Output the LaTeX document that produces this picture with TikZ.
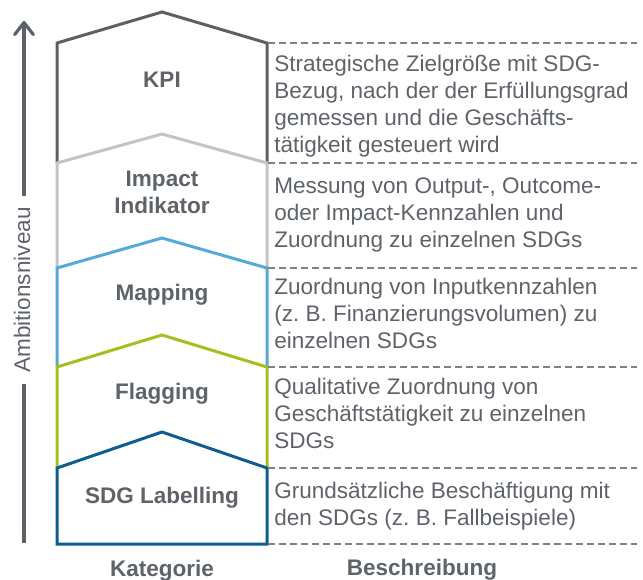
\documentclass[tikz,border=0pt]{standalone}
\usepackage{fontspec}
\setmainfont{Liberation Sans}
\usepackage{tikz}
\usetikzlibrary{arrows.meta}
\definecolor{txtgray}{HTML}{5E6369}
\definecolor{sepgray}{HTML}{7D8287}
\definecolor{kpicol}{HTML}{5B6167}
\definecolor{impactcol}{HTML}{C2C5C8}
\definecolor{mappingcol}{HTML}{56A8D6}
\definecolor{flaggingcol}{HTML}{AABD20}
\definecolor{labelcol}{HTML}{0D5D8E}
\newcommand{\diafont}{\fontsize{16.9pt}{20.25pt}\selectfont}
\frenchspacing

\begin{document}
\begin{tikzpicture}[x=0.75pt,y=-0.75pt]
                    \tikzstyle{every node}+=[inner sep=0pt, text=txtgray, font=\diafont]
                    \tikzstyle{layer}=[line width=2.25pt, line join=miter]
                    \tikzstyle{sep}=[sepgray, line width=0.9pt, dash pattern=on 5.25pt off 3pt]
                    \tikzstyle{cat}=[font=\diafont\bfseries, anchor=base]
                    \tikzstyle{desc}=[anchor=north west, align=left]
                    \useasboundingbox (0,0) rectangle (643,579);
                    % Ambitionsniveau
                    \coordinate (arrowtop) at (24,21);
                    \coordinate (arrowbot) at (24,543);
                    \node [rotate=90, inner xsep=8pt] (ambition) at (22,290) {Ambitionsniveau};
                    \draw [kpicol, line width=2.4pt] (arrowbot) -- (ambition.west -| arrowbot);
                    \draw [kpicol, line width=2.4pt, -{Straight Barb[round,length=9pt,width=14pt]}] (ambition.east -| arrowtop) -- (arrowtop);
                    % Stufen
                    \draw [layer, kpicol] (57,163) -- (57,43) -- (162,12) -- (267,43) -- (267,163);
                    \draw [layer, impactcol] (57,268) -- (57,163) -- (162,134) -- (267,163) -- (267,268);
                    \draw [layer, mappingcol] (57,367) -- (57,268) -- (162,238) -- (267,268) -- (267,367);
                    \draw [layer, flaggingcol] (57,468) -- (57,367) -- (162,335) -- (267,367) -- (267,468);
                    \draw [layer, labelcol] (57,468) -- (162,432) -- (267,468) -- (267,544) -- (57,544) -- cycle;
                    \node [cat] (kpi) at (162,87) {KPI};
                    \node [cat, anchor=north, align=center] (impact) at (162,167) {\strut Impact\\Indikator};
                    \node [cat] (mapping) at (162,300) {Mapping};
                    \node [cat] (flagging) at (162,399) {Flagging};
                    \node [cat] (labelling) at (162,503) {SDG Labelling};
                    % Trennlinien
                    \draw [sep] (268,43) -- (637,43);
                    \draw [sep] (268,163) -- (637,163);
                    \draw [sep] (268,268) -- (637,268);
                    \draw [sep] (268,367) -- (637,367);
                    \draw [sep] (268,468) -- (637,468);
                    \draw [sep] (268,544) -- (637,544);
                    % Beschreibungen
                    \node [desc] (kpitext) at (274,52) {\strut Strategische Zielgröße mit SDG-\\Bezug, nach der der Erfüllungsgrad\\gemessen und die Geschäfts-\\tätigkeit gesteuert wird};
                    \node [desc] (impacttext) at (274,174) {\strut Messung von Output-, Outcome-\\oder Impact-Kennzahlen und\\Zuordnung zu einzelnen SDGs};
                    \node [desc] (mappingtext) at (274,275) {\strut Zuordnung von Inputkennzahlen\\(z. B. Finanzierungsvolumen) zu\\einzelnen SDGs};
                    \node [desc] (flaggingtext) at (274,375) {\strut Qualitative Zuordnung von\\Geschäftstätigkeit zu einzelnen\\SDGs};
                    \node [desc] (labellingtext) at (274,479) {\strut Grundsätzliche Beschäftigung mit\\den SDGs (z. B. Fallbeispiele)};
                    % Spaltenköpfe
                    \node [cat] (kategorie) at (162,576) {Kategorie};
                    \node [cat] (beschreibung) at (422,575) {Beschreibung};
\end{tikzpicture}
\end{document}
